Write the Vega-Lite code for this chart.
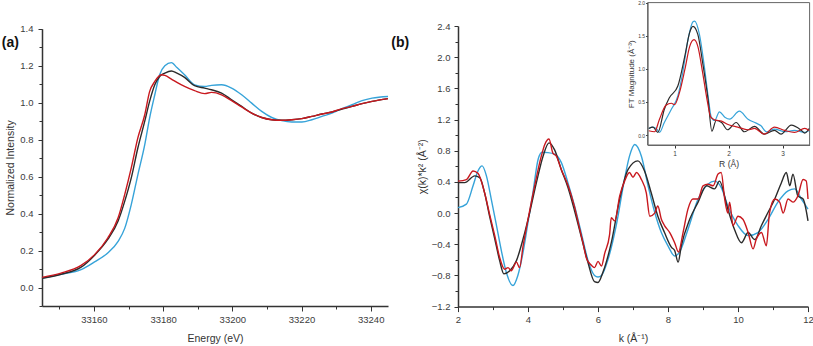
{
  "$schema": "https://vega.github.io/schema/vega-lite/v6.json",
  "padding": {"left": 1, "top": 0, "right": 0, "bottom": 0},
  "background": "white",
  "config": {
    "view": {"stroke": null},
    "font": "Liberation Sans",
    "axis": {
      "grid": false,
      "domainColor": "#333333",
      "domainWidth": 1.5,
      "tickColor": "#333333",
      "tickWidth": 1,
      "labelColor": "#3c3c3c",
      "titleColor": "#333333",
      "labelFont": "Liberation Sans",
      "titleFont": "Liberation Sans",
      "titleFontWeight": "normal",
      "labelFontSize": 9.5,
      "titleFontSize": 10.5,
      "labelBound": false,
      "labelFlush": false
    }
  },
  "datasets": {
    "xanes": [
      {"sample": "Sample 2", "E": 33145, "I": 0.050},
      {"sample": "Sample 2", "E": 33150.5, "I": 0.072},
      {"sample": "Sample 2", "E": 33156.3, "I": 0.097},
      {"sample": "Sample 2", "E": 33160.2, "I": 0.139},
      {"sample": "Sample 2", "E": 33164, "I": 0.187},
      {"sample": "Sample 2", "E": 33167, "I": 0.25},
      {"sample": "Sample 2", "E": 33168.9, "I": 0.32},
      {"sample": "Sample 2", "E": 33170.8, "I": 0.449},
      {"sample": "Sample 2", "E": 33172.7, "I": 0.61},
      {"sample": "Sample 2", "E": 33174.7, "I": 0.773},
      {"sample": "Sample 2", "E": 33176.1, "I": 0.917},
      {"sample": "Sample 2", "E": 33177.6, "I": 1.043},
      {"sample": "Sample 2", "E": 33179, "I": 1.151},
      {"sample": "Sample 2", "E": 33180.5, "I": 1.2},
      {"sample": "Sample 2", "E": 33182.4, "I": 1.217},
      {"sample": "Sample 2", "E": 33184, "I": 1.19},
      {"sample": "Sample 2", "E": 33186.2, "I": 1.151},
      {"sample": "Sample 2", "E": 33189.1, "I": 1.097},
      {"sample": "Sample 2", "E": 33192, "I": 1.088},
      {"sample": "Sample 2", "E": 33194, "I": 1.094},
      {"sample": "Sample 2", "E": 33196.9, "I": 1.097},
      {"sample": "Sample 2", "E": 33199.8, "I": 1.079},
      {"sample": "Sample 2", "E": 33202.7, "I": 1.043},
      {"sample": "Sample 2", "E": 33205.6, "I": 0.998},
      {"sample": "Sample 2", "E": 33208.5, "I": 0.953},
      {"sample": "Sample 2", "E": 33211.4, "I": 0.92},
      {"sample": "Sample 2", "E": 33214.3, "I": 0.903},
      {"sample": "Sample 2", "E": 33217.2, "I": 0.896},
      {"sample": "Sample 2", "E": 33220.1, "I": 0.896},
      {"sample": "Sample 2", "E": 33223, "I": 0.908},
      {"sample": "Sample 2", "E": 33225.9, "I": 0.926},
      {"sample": "Sample 2", "E": 33228.8, "I": 0.944},
      {"sample": "Sample 2", "E": 33231.7, "I": 0.968},
      {"sample": "Sample 2", "E": 33234.6, "I": 0.989},
      {"sample": "Sample 2", "E": 33237.5, "I": 1.011},
      {"sample": "Sample 2", "E": 33240.4, "I": 1.025},
      {"sample": "Sample 2", "E": 33245, "I": 1.034},
      {"sample": "Sample 1", "E": 33145, "I": 0.050},
      {"sample": "Sample 1", "E": 33150.5, "I": 0.072},
      {"sample": "Sample 1", "E": 33156.3, "I": 0.11},
      {"sample": "Sample 1", "E": 33160.2, "I": 0.175},
      {"sample": "Sample 1", "E": 33164, "I": 0.26},
      {"sample": "Sample 1", "E": 33167, "I": 0.36},
      {"sample": "Sample 1", "E": 33168.9, "I": 0.466},
      {"sample": "Sample 1", "E": 33170.8, "I": 0.593},
      {"sample": "Sample 1", "E": 33172.7, "I": 0.755},
      {"sample": "Sample 1", "E": 33174.7, "I": 0.9},
      {"sample": "Sample 1", "E": 33176.1, "I": 1.007},
      {"sample": "Sample 1", "E": 33177.6, "I": 1.097},
      {"sample": "Sample 1", "E": 33179, "I": 1.142},
      {"sample": "Sample 1", "E": 33180.5, "I": 1.16},
      {"sample": "Sample 1", "E": 33182.4, "I": 1.172},
      {"sample": "Sample 1", "E": 33184, "I": 1.16},
      {"sample": "Sample 1", "E": 33186.2, "I": 1.137},
      {"sample": "Sample 1", "E": 33189.1, "I": 1.092},
      {"sample": "Sample 1", "E": 33192, "I": 1.079},
      {"sample": "Sample 1", "E": 33194, "I": 1.07},
      {"sample": "Sample 1", "E": 33196.9, "I": 1.052},
      {"sample": "Sample 1", "E": 33199.8, "I": 1.016},
      {"sample": "Sample 1", "E": 33202.7, "I": 0.98},
      {"sample": "Sample 1", "E": 33205.6, "I": 0.944},
      {"sample": "Sample 1", "E": 33208.5, "I": 0.92},
      {"sample": "Sample 1", "E": 33211.4, "I": 0.908},
      {"sample": "Sample 1", "E": 33214.3, "I": 0.905},
      {"sample": "Sample 1", "E": 33217.2, "I": 0.908},
      {"sample": "Sample 1", "E": 33220.1, "I": 0.914},
      {"sample": "Sample 1", "E": 33223, "I": 0.926},
      {"sample": "Sample 1", "E": 33225.9, "I": 0.939},
      {"sample": "Sample 1", "E": 33228.8, "I": 0.95},
      {"sample": "Sample 1", "E": 33231.7, "I": 0.965},
      {"sample": "Sample 1", "E": 33234.6, "I": 0.98},
      {"sample": "Sample 1", "E": 33237.5, "I": 0.995},
      {"sample": "Sample 1", "E": 33240.4, "I": 1.007},
      {"sample": "Sample 1", "E": 33245, "I": 1.022},
      {"sample": "Sample 3", "E": 33145, "I": 0.055},
      {"sample": "Sample 3", "E": 33150.5, "I": 0.078},
      {"sample": "Sample 3", "E": 33156.3, "I": 0.12},
      {"sample": "Sample 3", "E": 33160.2, "I": 0.178},
      {"sample": "Sample 3", "E": 33164, "I": 0.268},
      {"sample": "Sample 3", "E": 33167, "I": 0.377},
      {"sample": "Sample 3", "E": 33168.9, "I": 0.503},
      {"sample": "Sample 3", "E": 33170.8, "I": 0.647},
      {"sample": "Sample 3", "E": 33172.7, "I": 0.81},
      {"sample": "Sample 3", "E": 33174.7, "I": 0.935},
      {"sample": "Sample 3", "E": 33176.1, "I": 1.06},
      {"sample": "Sample 3", "E": 33177.6, "I": 1.115},
      {"sample": "Sample 3", "E": 33179.5, "I": 1.151},
      {"sample": "Sample 3", "E": 33180.5, "I": 1.148},
      {"sample": "Sample 3", "E": 33182.4, "I": 1.128},
      {"sample": "Sample 3", "E": 33184, "I": 1.11},
      {"sample": "Sample 3", "E": 33186.2, "I": 1.088},
      {"sample": "Sample 3", "E": 33189.1, "I": 1.065},
      {"sample": "Sample 3", "E": 33192, "I": 1.049},
      {"sample": "Sample 3", "E": 33194, "I": 1.056},
      {"sample": "Sample 3", "E": 33196.9, "I": 1.043},
      {"sample": "Sample 3", "E": 33199.8, "I": 1.011},
      {"sample": "Sample 3", "E": 33202.7, "I": 0.977},
      {"sample": "Sample 3", "E": 33205.6, "I": 0.944},
      {"sample": "Sample 3", "E": 33208.5, "I": 0.92},
      {"sample": "Sample 3", "E": 33211.4, "I": 0.908},
      {"sample": "Sample 3", "E": 33214.3, "I": 0.905},
      {"sample": "Sample 3", "E": 33217.2, "I": 0.908},
      {"sample": "Sample 3", "E": 33220.1, "I": 0.914},
      {"sample": "Sample 3", "E": 33223, "I": 0.926},
      {"sample": "Sample 3", "E": 33225.9, "I": 0.939},
      {"sample": "Sample 3", "E": 33228.8, "I": 0.95},
      {"sample": "Sample 3", "E": 33231.7, "I": 0.968},
      {"sample": "Sample 3", "E": 33234.6, "I": 0.98},
      {"sample": "Sample 3", "E": 33237.5, "I": 0.995},
      {"sample": "Sample 3", "E": 33240.4, "I": 1.007},
      {"sample": "Sample 3", "E": 33245, "I": 1.022}
    ],
    "exafs": [
      {"sample": "Sample 2", "k": 2.0, "chi": 0.07},
      {"sample": "Sample 2", "k": 2.24, "chi": 0.115},
      {"sample": "Sample 2", "k": 2.43, "chi": 0.35},
      {"sample": "Sample 2", "k": 2.57, "chi": 0.54},
      {"sample": "Sample 2", "k": 2.69, "chi": 0.605},
      {"sample": "Sample 2", "k": 2.81, "chi": 0.48},
      {"sample": "Sample 2", "k": 2.95, "chi": 0.18},
      {"sample": "Sample 2", "k": 3.1, "chi": -0.16},
      {"sample": "Sample 2", "k": 3.24, "chi": -0.485},
      {"sample": "Sample 2", "k": 3.38, "chi": -0.76},
      {"sample": "Sample 2", "k": 3.57, "chi": -0.93},
      {"sample": "Sample 2", "k": 3.71, "chi": -0.8},
      {"sample": "Sample 2", "k": 3.86, "chi": -0.5},
      {"sample": "Sample 2", "k": 4.0, "chi": -0.12},
      {"sample": "Sample 2", "k": 4.14, "chi": 0.26},
      {"sample": "Sample 2", "k": 4.29, "chi": 0.69},
      {"sample": "Sample 2", "k": 4.4, "chi": 0.78},
      {"sample": "Sample 2", "k": 4.57, "chi": 0.776},
      {"sample": "Sample 2", "k": 4.76, "chi": 0.755},
      {"sample": "Sample 2", "k": 4.95, "chi": 0.65},
      {"sample": "Sample 2", "k": 5.14, "chi": 0.39},
      {"sample": "Sample 2", "k": 5.33, "chi": 0.09},
      {"sample": "Sample 2", "k": 5.52, "chi": -0.25},
      {"sample": "Sample 2", "k": 5.71, "chi": -0.6},
      {"sample": "Sample 2", "k": 5.9, "chi": -0.8},
      {"sample": "Sample 2", "k": 6.0, "chi": -0.82},
      {"sample": "Sample 2", "k": 6.1, "chi": -0.8},
      {"sample": "Sample 2", "k": 6.29, "chi": -0.59},
      {"sample": "Sample 2", "k": 6.52, "chi": -0.16},
      {"sample": "Sample 2", "k": 6.76, "chi": 0.44},
      {"sample": "Sample 2", "k": 6.9, "chi": 0.73},
      {"sample": "Sample 2", "k": 7.05, "chi": 0.88},
      {"sample": "Sample 2", "k": 7.24, "chi": 0.73},
      {"sample": "Sample 2", "k": 7.43, "chi": 0.35},
      {"sample": "Sample 2", "k": 7.62, "chi": 0.01},
      {"sample": "Sample 2", "k": 7.81, "chi": -0.25},
      {"sample": "Sample 2", "k": 8.0, "chi": -0.42},
      {"sample": "Sample 2", "k": 8.19, "chi": -0.55},
      {"sample": "Sample 2", "k": 8.33, "chi": -0.5},
      {"sample": "Sample 2", "k": 8.57, "chi": -0.21},
      {"sample": "Sample 2", "k": 8.86, "chi": 0.18},
      {"sample": "Sample 2", "k": 9.14, "chi": 0.37},
      {"sample": "Sample 2", "k": 9.33, "chi": 0.41},
      {"sample": "Sample 2", "k": 9.52, "chi": 0.33},
      {"sample": "Sample 2", "k": 9.71, "chi": 0.09},
      {"sample": "Sample 2", "k": 10.0, "chi": -0.16},
      {"sample": "Sample 2", "k": 10.29, "chi": -0.29},
      {"sample": "Sample 2", "k": 10.57, "chi": -0.25},
      {"sample": "Sample 2", "k": 10.86, "chi": -0.08},
      {"sample": "Sample 2", "k": 11.14, "chi": 0.14},
      {"sample": "Sample 2", "k": 11.43, "chi": 0.285},
      {"sample": "Sample 2", "k": 11.62, "chi": 0.31},
      {"sample": "Sample 2", "k": 11.81, "chi": 0.18},
      {"sample": "Sample 2", "k": 12.0, "chi": 0.05},
      {"sample": "Sample 1", "k": 2.0, "chi": 0.39},
      {"sample": "Sample 1", "k": 2.19, "chi": 0.39},
      {"sample": "Sample 1", "k": 2.48, "chi": 0.477},
      {"sample": "Sample 1", "k": 2.62, "chi": 0.455},
      {"sample": "Sample 1", "k": 2.76, "chi": 0.26},
      {"sample": "Sample 1", "k": 2.9, "chi": -0.036},
      {"sample": "Sample 1", "k": 3.05, "chi": -0.33},
      {"sample": "Sample 1", "k": 3.19, "chi": -0.61},
      {"sample": "Sample 1", "k": 3.31, "chi": -0.78},
      {"sample": "Sample 1", "k": 3.48, "chi": -0.74},
      {"sample": "Sample 1", "k": 3.67, "chi": -0.61},
      {"sample": "Sample 1", "k": 3.86, "chi": -0.33},
      {"sample": "Sample 1", "k": 4.05, "chi": 0.01},
      {"sample": "Sample 1", "k": 4.24, "chi": 0.39},
      {"sample": "Sample 1", "k": 4.43, "chi": 0.73},
      {"sample": "Sample 1", "k": 4.6, "chi": 0.9},
      {"sample": "Sample 1", "k": 4.76, "chi": 0.81},
      {"sample": "Sample 1", "k": 4.95, "chi": 0.56},
      {"sample": "Sample 1", "k": 5.14, "chi": 0.33},
      {"sample": "Sample 1", "k": 5.33, "chi": 0.03},
      {"sample": "Sample 1", "k": 5.52, "chi": -0.3},
      {"sample": "Sample 1", "k": 5.71, "chi": -0.63},
      {"sample": "Sample 1", "k": 5.9, "chi": -0.88},
      {"sample": "Sample 1", "k": 6.0, "chi": -0.89},
      {"sample": "Sample 1", "k": 6.14, "chi": -0.76},
      {"sample": "Sample 1", "k": 6.38, "chi": -0.38},
      {"sample": "Sample 1", "k": 6.62, "chi": 0.18},
      {"sample": "Sample 1", "k": 6.86, "chi": 0.56},
      {"sample": "Sample 1", "k": 7.14, "chi": 0.67},
      {"sample": "Sample 1", "k": 7.33, "chi": 0.54},
      {"sample": "Sample 1", "k": 7.52, "chi": 0.26},
      {"sample": "Sample 1", "k": 7.71, "chi": -0.04},
      {"sample": "Sample 1", "k": 7.9, "chi": -0.25},
      {"sample": "Sample 1", "k": 8.1, "chi": -0.44},
      {"sample": "Sample 1", "k": 8.19, "chi": -0.48},
      {"sample": "Sample 1", "k": 8.29, "chi": -0.63},
      {"sample": "Sample 1", "k": 8.38, "chi": -0.42},
      {"sample": "Sample 1", "k": 8.62, "chi": -0.08},
      {"sample": "Sample 1", "k": 8.86, "chi": 0.14},
      {"sample": "Sample 1", "k": 9.1, "chi": 0.35},
      {"sample": "Sample 1", "k": 9.33, "chi": 0.31},
      {"sample": "Sample 1", "k": 9.47, "chi": 0.41},
      {"sample": "Sample 1", "k": 9.71, "chi": 0.05},
      {"sample": "Sample 1", "k": 9.9, "chi": -0.21},
      {"sample": "Sample 1", "k": 10.1, "chi": -0.38},
      {"sample": "Sample 1", "k": 10.29, "chi": -0.25},
      {"sample": "Sample 1", "k": 10.48, "chi": -0.34},
      {"sample": "Sample 1", "k": 10.67, "chi": -0.16},
      {"sample": "Sample 1", "k": 10.86, "chi": 0.01},
      {"sample": "Sample 1", "k": 11.05, "chi": 0.18},
      {"sample": "Sample 1", "k": 11.24, "chi": 0.39},
      {"sample": "Sample 1", "k": 11.38, "chi": 0.52},
      {"sample": "Sample 1", "k": 11.48, "chi": 0.35},
      {"sample": "Sample 1", "k": 11.57, "chi": 0.5},
      {"sample": "Sample 1", "k": 11.71, "chi": 0.22},
      {"sample": "Sample 1", "k": 11.86, "chi": 0.18},
      {"sample": "Sample 1", "k": 12.0, "chi": -0.1},
      {"sample": "Sample 3", "k": 2.0, "chi": 0.41},
      {"sample": "Sample 3", "k": 2.24, "chi": 0.43},
      {"sample": "Sample 3", "k": 2.43, "chi": 0.54},
      {"sample": "Sample 3", "k": 2.57, "chi": 0.51},
      {"sample": "Sample 3", "k": 2.76, "chi": 0.26},
      {"sample": "Sample 3", "k": 2.9, "chi": -0.01},
      {"sample": "Sample 3", "k": 3.05, "chi": -0.29},
      {"sample": "Sample 3", "k": 3.19, "chi": -0.57},
      {"sample": "Sample 3", "k": 3.33, "chi": -0.72},
      {"sample": "Sample 3", "k": 3.43, "chi": -0.7},
      {"sample": "Sample 3", "k": 3.52, "chi": -0.74},
      {"sample": "Sample 3", "k": 3.67, "chi": -0.63},
      {"sample": "Sample 3", "k": 3.76, "chi": -0.7},
      {"sample": "Sample 3", "k": 3.86, "chi": -0.42},
      {"sample": "Sample 3", "k": 4.0, "chi": -0.08},
      {"sample": "Sample 3", "k": 4.19, "chi": 0.35},
      {"sample": "Sample 3", "k": 4.38, "chi": 0.73},
      {"sample": "Sample 3", "k": 4.48, "chi": 0.88},
      {"sample": "Sample 3", "k": 4.6, "chi": 0.95},
      {"sample": "Sample 3", "k": 4.71, "chi": 0.77},
      {"sample": "Sample 3", "k": 4.81, "chi": 0.73},
      {"sample": "Sample 3", "k": 4.95, "chi": 0.56},
      {"sample": "Sample 3", "k": 5.14, "chi": 0.36},
      {"sample": "Sample 3", "k": 5.33, "chi": 0.08},
      {"sample": "Sample 3", "k": 5.47, "chi": -0.19},
      {"sample": "Sample 3", "k": 5.57, "chi": -0.38},
      {"sample": "Sample 3", "k": 5.67, "chi": -0.58},
      {"sample": "Sample 3", "k": 5.81, "chi": -0.67},
      {"sample": "Sample 3", "k": 5.9, "chi": -0.7},
      {"sample": "Sample 3", "k": 6.0, "chi": -0.62},
      {"sample": "Sample 3", "k": 6.1, "chi": -0.68},
      {"sample": "Sample 3", "k": 6.19, "chi": -0.52},
      {"sample": "Sample 3", "k": 6.33, "chi": -0.28},
      {"sample": "Sample 3", "k": 6.38, "chi": -0.06},
      {"sample": "Sample 3", "k": 6.48, "chi": -0.1},
      {"sample": "Sample 3", "k": 6.62, "chi": 0.22},
      {"sample": "Sample 3", "k": 6.76, "chi": 0.41},
      {"sample": "Sample 3", "k": 6.9, "chi": 0.52},
      {"sample": "Sample 3", "k": 7.0, "chi": 0.46},
      {"sample": "Sample 3", "k": 7.1, "chi": 0.52},
      {"sample": "Sample 3", "k": 7.24, "chi": 0.43},
      {"sample": "Sample 3", "k": 7.38, "chi": 0.26},
      {"sample": "Sample 3", "k": 7.48, "chi": -0.04},
      {"sample": "Sample 3", "k": 7.62, "chi": 0.0},
      {"sample": "Sample 3", "k": 7.71, "chi": 0.09},
      {"sample": "Sample 3", "k": 7.81, "chi": -0.08},
      {"sample": "Sample 3", "k": 7.9, "chi": -0.16},
      {"sample": "Sample 3", "k": 8.05, "chi": -0.25},
      {"sample": "Sample 3", "k": 8.19, "chi": -0.38},
      {"sample": "Sample 3", "k": 8.3, "chi": -0.5},
      {"sample": "Sample 3", "k": 8.43, "chi": -0.25},
      {"sample": "Sample 3", "k": 8.57, "chi": 0.05},
      {"sample": "Sample 3", "k": 8.71, "chi": 0.18},
      {"sample": "Sample 3", "k": 8.86, "chi": 0.18},
      {"sample": "Sample 3", "k": 9.0, "chi": 0.35},
      {"sample": "Sample 3", "k": 9.14, "chi": 0.37},
      {"sample": "Sample 3", "k": 9.29, "chi": 0.35},
      {"sample": "Sample 3", "k": 9.43, "chi": 0.5},
      {"sample": "Sample 3", "k": 9.52, "chi": 0.52},
      {"sample": "Sample 3", "k": 9.62, "chi": 0.18},
      {"sample": "Sample 3", "k": 9.71, "chi": 0.0},
      {"sample": "Sample 3", "k": 9.76, "chi": 0.14},
      {"sample": "Sample 3", "k": 9.86, "chi": -0.16},
      {"sample": "Sample 3", "k": 10.0, "chi": -0.04},
      {"sample": "Sample 3", "k": 10.14, "chi": -0.08},
      {"sample": "Sample 3", "k": 10.29, "chi": -0.25},
      {"sample": "Sample 3", "k": 10.43, "chi": -0.46},
      {"sample": "Sample 3", "k": 10.52, "chi": -0.34},
      {"sample": "Sample 3", "k": 10.67, "chi": -0.25},
      {"sample": "Sample 3", "k": 10.81, "chi": -0.42},
      {"sample": "Sample 3", "k": 10.9, "chi": 0.0},
      {"sample": "Sample 3", "k": 11.05, "chi": 0.18},
      {"sample": "Sample 3", "k": 11.19, "chi": 0.14},
      {"sample": "Sample 3", "k": 11.29, "chi": 0.0},
      {"sample": "Sample 3", "k": 11.43, "chi": 0.18},
      {"sample": "Sample 3", "k": 11.57, "chi": 0.14},
      {"sample": "Sample 3", "k": 11.71, "chi": 0.22},
      {"sample": "Sample 3", "k": 11.86, "chi": 0.43},
      {"sample": "Sample 3", "k": 11.95, "chi": 0.41},
      {"sample": "Sample 3", "k": 12.0, "chi": 0.18}
    ],
    "ft": [
      {"sample": "Sample 2", "R": 0.52, "M": 0.10},
      {"sample": "Sample 2", "R": 0.6, "M": 0.12},
      {"sample": "Sample 2", "R": 0.68, "M": 0.08},
      {"sample": "Sample 2", "R": 0.72, "M": 0.04},
      {"sample": "Sample 2", "R": 0.81, "M": 0.19},
      {"sample": "Sample 2", "R": 0.94, "M": 0.39},
      {"sample": "Sample 2", "R": 1.06, "M": 0.59},
      {"sample": "Sample 2", "R": 1.15, "M": 0.94},
      {"sample": "Sample 2", "R": 1.25, "M": 1.45},
      {"sample": "Sample 2", "R": 1.34, "M": 1.71},
      {"sample": "Sample 2", "R": 1.37, "M": 1.72},
      {"sample": "Sample 2", "R": 1.46, "M": 1.52},
      {"sample": "Sample 2", "R": 1.55, "M": 1.04},
      {"sample": "Sample 2", "R": 1.62, "M": 0.59},
      {"sample": "Sample 2", "R": 1.68, "M": 0.27},
      {"sample": "Sample 2", "R": 1.74, "M": 0.22},
      {"sample": "Sample 2", "R": 1.83, "M": 0.35},
      {"sample": "Sample 2", "R": 1.93, "M": 0.27},
      {"sample": "Sample 2", "R": 2.02, "M": 0.24},
      {"sample": "Sample 2", "R": 2.2, "M": 0.36},
      {"sample": "Sample 2", "R": 2.36, "M": 0.24},
      {"sample": "Sample 2", "R": 2.51, "M": 0.18},
      {"sample": "Sample 2", "R": 2.6, "M": 0.14},
      {"sample": "Sample 2", "R": 2.7, "M": 0.05},
      {"sample": "Sample 2", "R": 2.85, "M": 0.09},
      {"sample": "Sample 2", "R": 3.04, "M": 0.05},
      {"sample": "Sample 2", "R": 3.22, "M": 0.07},
      {"sample": "Sample 2", "R": 3.41, "M": 0.04},
      {"sample": "Sample 2", "R": 3.49, "M": 0.07},
      {"sample": "Sample 1", "R": 0.52, "M": 0.10},
      {"sample": "Sample 1", "R": 0.6, "M": 0.12},
      {"sample": "Sample 1", "R": 0.69, "M": 0.04},
      {"sample": "Sample 1", "R": 0.81, "M": 0.39},
      {"sample": "Sample 1", "R": 0.9, "M": 0.56},
      {"sample": "Sample 1", "R": 1.06, "M": 0.74},
      {"sample": "Sample 1", "R": 1.19, "M": 1.195},
      {"sample": "Sample 1", "R": 1.28, "M": 1.55},
      {"sample": "Sample 1", "R": 1.34, "M": 1.64},
      {"sample": "Sample 1", "R": 1.43, "M": 1.52},
      {"sample": "Sample 1", "R": 1.52, "M": 1.09},
      {"sample": "Sample 1", "R": 1.62, "M": 0.54},
      {"sample": "Sample 1", "R": 1.69, "M": 0.06},
      {"sample": "Sample 1", "R": 1.77, "M": 0.22},
      {"sample": "Sample 1", "R": 1.87, "M": 0.19},
      {"sample": "Sample 1", "R": 1.98, "M": 0.08},
      {"sample": "Sample 1", "R": 2.14, "M": 0.19},
      {"sample": "Sample 1", "R": 2.29, "M": 0.05},
      {"sample": "Sample 1", "R": 2.48, "M": 0.13},
      {"sample": "Sample 1", "R": 2.66, "M": 0.015},
      {"sample": "Sample 1", "R": 2.85, "M": 0.07},
      {"sample": "Sample 1", "R": 2.97, "M": 0.015},
      {"sample": "Sample 1", "R": 3.16, "M": 0.15},
      {"sample": "Sample 1", "R": 3.35, "M": 0.07},
      {"sample": "Sample 1", "R": 3.41, "M": 0.03},
      {"sample": "Sample 1", "R": 3.49, "M": 0.10},
      {"sample": "Sample 3", "R": 0.52, "M": 0.065},
      {"sample": "Sample 3", "R": 0.63, "M": 0.05},
      {"sample": "Sample 3", "R": 0.72, "M": 0.24},
      {"sample": "Sample 3", "R": 0.84, "M": 0.45},
      {"sample": "Sample 3", "R": 0.94, "M": 0.48},
      {"sample": "Sample 3", "R": 1.0, "M": 0.46},
      {"sample": "Sample 3", "R": 1.09, "M": 0.64},
      {"sample": "Sample 3", "R": 1.19, "M": 0.99},
      {"sample": "Sample 3", "R": 1.28, "M": 1.34},
      {"sample": "Sample 3", "R": 1.36, "M": 1.44},
      {"sample": "Sample 3", "R": 1.43, "M": 1.34},
      {"sample": "Sample 3", "R": 1.52, "M": 0.94},
      {"sample": "Sample 3", "R": 1.6, "M": 0.54},
      {"sample": "Sample 3", "R": 1.67, "M": 0.27},
      {"sample": "Sample 3", "R": 1.74, "M": 0.23},
      {"sample": "Sample 3", "R": 1.87, "M": 0.21},
      {"sample": "Sample 3", "R": 1.99, "M": 0.16},
      {"sample": "Sample 3", "R": 2.17, "M": 0.12},
      {"sample": "Sample 3", "R": 2.36, "M": 0.08},
      {"sample": "Sample 3", "R": 2.48, "M": 0.10},
      {"sample": "Sample 3", "R": 2.66, "M": 0.015},
      {"sample": "Sample 3", "R": 2.85, "M": 0.12},
      {"sample": "Sample 3", "R": 3.04, "M": 0.07},
      {"sample": "Sample 3", "R": 3.22, "M": 0.04},
      {"sample": "Sample 3", "R": 3.41, "M": 0.10},
      {"sample": "Sample 3", "R": 3.49, "M": 0.07}
    ]
  },
  "bounds": "flush",
  "spacing": 70,
  "hconcat": [
    {
      "width": 346,
      "height": 280,
      "layer": [
        {
          "data": {"name": "xanes"},
          "mark": {"type": "line", "strokeWidth": 1.4, "interpolate": "monotone"},
          "encoding": {
            "x": {
              "field": "E", "type": "quantitative",
              "scale": {"domain": [33145, 33245], "nice": false, "zero": false},
              "axis": {
                "title": "Energy (eV)",
                "values": [33150, 33160, 33170, 33180, 33190, 33200, 33210, 33220, 33230, 33240],
                "tickCount": 100,
                "format": "d",
                "labelOverlap": false,
                "labelExpr": "datum.value % 20 === 0 ? datum.label : ''",
                "tickSize": {"condition": {"test": "datum.value % 20 === 0", "value": 5}, "value": 3},
                "labelPadding": 3,
                "titlePadding": 10
              }
            },
            "y": {
              "field": "I", "type": "quantitative",
              "scale": {"domain": [-0.1, 1.4], "nice": false, "zero": false, "range": [280, 2.8]},
              "axis": {
                "title": "Normalized Intensity",
                "values": [-0.1, 0, 0.1, 0.2, 0.3, 0.4, 0.5, 0.6, 0.7, 0.8, 0.9, 1.0, 1.1, 1.2, 1.3, 1.4],
                "tickCount": 100,
                "format": ".1f",
                "labelOverlap": false,
                "labelExpr": "abs(round(datum.value * 10)) % 2 === 0 ? datum.label : ''",
                "tickSize": {"condition": {"test": "abs(round(datum.value * 10)) % 2 === 0", "value": 4}, "value": 3},
                "labelPadding": 5,
                "titlePadding": 4
              }
            },
            "color": {
              "field": "sample", "type": "nominal",
              "scale": {"domain": ["Sample 1", "Sample 2", "Sample 3"], "range": ["#2b2b2b", "#36a3d9", "#c8181e"]},
              "legend": null
            }
          }
        },
        {
          "data": {"values": [{"label": "(a)", "E": 33133.4, "I": 1.324}]},
          "mark": {"type": "text", "align": "left", "baseline": "middle", "fontWeight": "bold", "fontSize": 14, "color": "#111111"},
          "encoding": {
            "x": {"field": "E", "type": "quantitative"},
            "y": {"field": "I", "type": "quantitative"},
            "text": {"field": "label"}
          }
        }
      ]
    },
    {
      "width": 350,
      "height": 280.6,
      "layer": [
        {
          "layer": [
            {
              "data": {"name": "exafs"},
              "mark": {"type": "line", "strokeWidth": 1.4, "interpolate": "monotone"},
              "encoding": {
                "x": {
                  "field": "k", "type": "quantitative",
                  "scale": {"domain": [2, 12], "nice": false, "zero": false},
                  "axis": {
                    "title": "k (Å⁻¹)",
                    "values": [2, 3, 4, 5, 6, 7, 8, 9, 10, 11, 12],
                    "tickCount": 100,
                    "format": "d",
                    "labelOverlap": false,
                    "labelExpr": "datum.value % 2 === 0 ? datum.label : ''",
                    "tickSize": {"condition": {"test": "datum.value % 2 === 0", "value": 5}, "value": 3},
                    "labelPadding": 3,
                    "titlePadding": 9
                  }
                },
                "y": {
                  "field": "chi", "type": "quantitative",
                  "scale": {"domain": [-1.2, 2.4], "nice": false, "zero": false},
                  "axis": {
                    "title": "χ(k)*k² (Å⁻²)",
                    "values": [-1.2, -1.0, -0.8, -0.6, -0.4, -0.2, 0, 0.2, 0.4, 0.6, 0.8, 1.0, 1.2, 1.4, 1.6, 1.8, 2.0, 2.2, 2.4],
                    "tickCount": 100,
                    "format": ".1f",
                    "labelOverlap": false,
                    "labelExpr": "abs(round(datum.value * 10)) % 4 === 0 ? datum.label : ''",
                    "tickSize": {"condition": {"test": "abs(round(datum.value * 10)) % 4 === 0", "value": 4}, "value": 3},
                    "labelPadding": 4,
                    "titlePadding": 4
                  }
                },
                "color": {"field": "sample", "type": "nominal", "legend": null}
              }
            },
            {
              "data": {"values": [{"label": "(b)", "k": 0.094, "chi": 2.187}]},
              "mark": {"type": "text", "align": "left", "baseline": "middle", "fontWeight": "bold", "fontSize": 14, "color": "#111111"},
              "encoding": {
                "x": {"field": "k", "type": "quantitative"},
                "y": {"field": "chi", "type": "quantitative"},
                "text": {"field": "label"}
              }
            }
          ]
        },
        {
          "layer": [
            {
              "data": {"values": [{"R": 0.5, "R2": 3.5, "M": -0.15, "M2": 2.0}]},
              "mark": {"type": "rect", "fill": "white", "stroke": "#666666", "strokeWidth": 1},
              "encoding": {
                "x": {
                  "field": "R", "type": "quantitative",
                  "scale": {"domain": [0.5, 3.5], "nice": false, "zero": false, "range": [189.6, 351.6]},
                  "axis": {
                    "orient": "bottom",
                    "offset": -161.6,
                    "title": "R (Å)",
                    "values": [1, 1.5, 2, 2.5, 3],
                    "tickCount": 100,
                    "format": "d",
                    "labelOverlap": false,
                    "labelExpr": "datum.value % 1 === 0 ? datum.label : ''",
                    "tickSize": {"condition": {"test": "datum.value % 1 === 0", "value": 3}, "value": 2},
                    "labelFontSize": 6.5,
                    "titleFontSize": 8.6,
                    "labelPadding": 2,
                    "titlePadding": 3,
                    "domainWidth": 1,
                    "domainColor": "#666666",
                    "zindex": 1
                  }
                },
                "x2": {"field": "R2"},
                "y": {
                  "field": "M", "type": "quantitative",
                  "scale": {"domain": [-0.15, 2.0], "nice": false, "zero": false, "range": [119, -23.4]},
                  "axis": {
                    "orient": "left",
                    "offset": -189.6,
                    "title": "FT Magnitude (Å⁻³)",
                    "values": [0, 0.5, 1.0, 1.5, 2.0],
                    "tickCount": 100,
                    "format": ".1f",
                    "labelOverlap": false,
                    "tickSize": 2,
                    "labelFontSize": 5,
                    "titleFontSize": 8,
                    "labelPadding": 1,
                    "titlePadding": 2,
                    "domainWidth": 1,
                    "domainColor": "#666666",
                    "zindex": 1
                  }
                },
                "y2": {"field": "M2"}
              }
            },
            {
              "data": {"name": "ft"},
              "mark": {"type": "line", "strokeWidth": 1.2, "interpolate": "monotone"},
              "encoding": {
                "x": {"field": "R", "type": "quantitative"},
                "y": {"field": "M", "type": "quantitative"},
                "color": {"field": "sample", "type": "nominal", "legend": null}
              }
            }
          ]
        }
      ],
      "resolve": {
        "scale": {"x": "independent", "y": "independent"},
        "axis": {"x": "independent", "y": "independent"}
      }
    }
  ]
}
